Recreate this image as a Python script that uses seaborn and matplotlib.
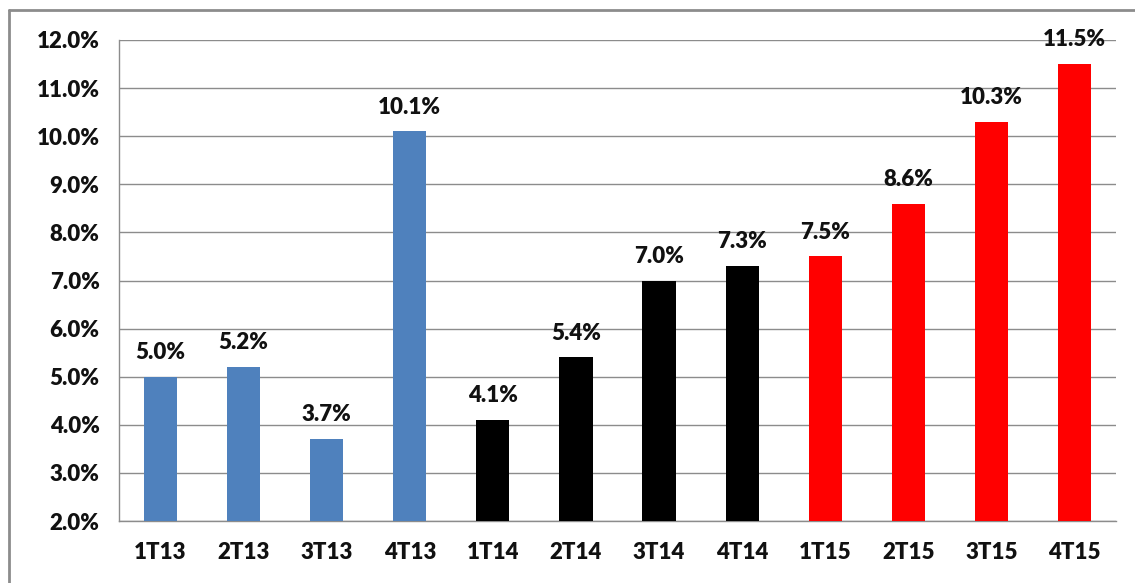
import matplotlib
matplotlib.use("Agg")
import matplotlib.pyplot as plt
import seaborn as sns
import numpy as np
from matplotlib.ticker import FixedLocator, FuncFormatter
from matplotlib.lines import Line2D

# ===================== 数据 =====================
quarters = ["1T13", "2T13", "3T13", "4T13",
            "1T14", "2T14", "3T14", "4T14",
            "1T15", "2T15", "3T15", "4T15"]
values = [5.0, 5.2, 3.7, 10.1,
          4.1, 5.4, 7.0, 7.3,
          7.5, 8.6, 10.3, 11.5]
bar_colors = ["#4F81BD"] * 4 + ["#000000"] * 4 + ["#FF0000"] * 4
y_ticks = [2.0, 3.0, 4.0, 5.0, 6.0, 7.0, 8.0, 9.0, 10.0, 11.0, 12.0]

# ===================== 样式 =====================
sns.set_style("white")
plt.rcParams['font.family'] = ['Lato', 'DejaVu Sans']
W = 'heavy'

fig = plt.figure(figsize=(11.35, 5.83), dpi=100)
ax = fig.add_axes([119 / 1135, 1 - 521 / 583, (1116 - 119) / 1135, (521 - 40) / 583])

sns.barplot(x=quarters, y=values, hue=quarters, palette=bar_colors,
            legend=False, width=0.4, saturation=1, ax=ax, zorder=3,
            linewidth=0)

ax.set_ylim(2.0, 12.0)
ax.set_xlim(-0.5, len(quarters) - 0.5)
ax.yaxis.set_major_locator(FixedLocator(y_ticks))
ax.yaxis.set_major_formatter(FuncFormatter(lambda v, p: f"{v:.1f}%"))
ax.grid(axis='y', color='#8c8c8c', linewidth=1.0, zorder=0)
ax.set_axisbelow(True)

for side in ['top', 'right']:
    ax.spines[side].set_visible(False)
for side in ['left', 'bottom']:
    ax.spines[side].set_color('#8c8c8c')
    ax.spines[side].set_linewidth(1.0)

ax.tick_params(axis='y', which='major', length=9, width=1.0, color='#8c8c8c',
               labelsize=16, pad=5, labelcolor='#111111')
ax.tick_params(axis='x', which='major', length=0, labelsize=16, pad=15,
               labelcolor='#111111')
ax.set_xticks(np.arange(-0.5, len(quarters), 1.0), minor=True)
ax.tick_params(axis='x', which='minor', length=9, width=1.0, color='#8c8c8c')
for lbl in ax.get_xticklabels() + ax.get_yticklabels():
    lbl.set_fontweight(W)
ax.set_xlabel("")
ax.set_ylabel("")

# 数值标签
for i, v in enumerate(values):
    ax.annotate(f"{v:.1f}%", (i, v), xytext=(0, 10), textcoords='offset points',
                ha='center', va='bottom', fontsize=16, fontweight=W,
                color='#111111', annotation_clip=False)

# 外框
fig.add_artist(Line2D([9 / 1135, 9 / 1135], [0, 1 - 10 / 583],
                      transform=fig.transFigure, color='#8c8c8c', linewidth=2))
fig.add_artist(Line2D([9 / 1135, 1], [1 - 10 / 583, 1 - 10 / 583],
                      transform=fig.transFigure, color='#8c8c8c', linewidth=2))

fig.savefig("out.png", dpi=100)
